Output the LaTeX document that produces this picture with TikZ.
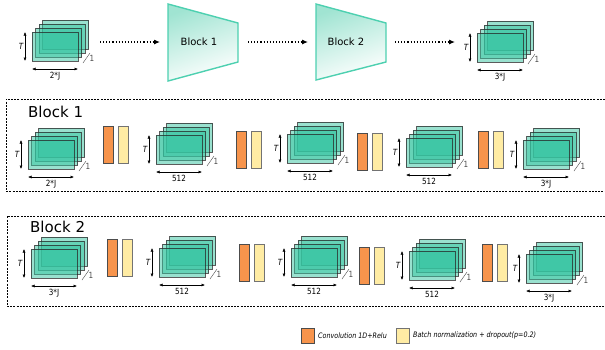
\documentclass[tikz,border=0pt]{standalone}
\usepackage{fontspec}
\setmainfont{DejaVu Sans}
\newfontfamily\narrowfont[FakeStretch=0.85]{DejaVu Sans}
\usetikzlibrary{arrows.meta,positioning}

\definecolor{layerteal}{RGB}{52,196,160}
\definecolor{blockedge}{RGB}{77,208,176}
\definecolor{blockfill}{RGB}{160,228,210}
\definecolor{convorange}{RGB}{247,148,76}
\definecolor{bnyellow}{RGB}{255,236,164}

\tikzset{
	fmaplayer/.style={draw=black!85, draw opacity=0.75, fill=layerteal, fill opacity=0.5,
		minimum width=46pt, minimum height=29pt, inner sep=0pt, outer sep=0pt, anchor=north west},
	dimarrow/.style={{Latex[length=3.5pt,width=3pt]}-{Latex[length=3.5pt,width=3pt]}, line width=0.5pt},
	dimlabel/.style={font=\narrowfont\fontsize{8.5}{9}\selectfont, inner sep=1pt},
	conv/.style={draw=black!70, fill=convorange, minimum width=10pt, minimum height=37pt,
		inner sep=0pt, outer sep=0pt},
	bnorm/.style={conv, draw=black!55, fill=bnyellow},
	flow/.style={dotted, line width=1.1pt, -{Latex[length=6pt,width=5pt]}},
	blockshape/.style={draw=blockedge, line width=1.4pt, top color=blockfill, bottom color=white, shading angle=20},
	groupbox/.style={line width=0.6pt, dash pattern=on 2pt off 1.2pt},
	grouptitle/.style={font=\fontsize{15}{18}\selectfont, anchor=west, inner sep=0pt},
	legendtext/.style={font=\narrowfont\itshape\fontsize{7.5}{9}\selectfont, inner sep=0pt},
}

% feature map stack: name, x, y (front layer, top left), width label
\newcommand{\featmap}[4]{%
	\foreach \k in {3,2,1,0}
		\node[fmaplayer] (#1-\k) at (#2+3.5*\k,#3-4*\k) {};
	\draw[dimarrow] ([xshift=-7pt]#1-0.north west) -- ([xshift=-7pt]#1-0.south west)
		node[midway, left, dimlabel] {\textit{T}};
	\draw[dimarrow] ([yshift=-8pt]#1-0.south west) -- ([yshift=-8pt]#1-0.south east)
		node[midway, below=1.5pt, dimlabel] {#4};
	\draw[line width=0.4pt, black!70] ([shift={(5pt,-2pt)}]#1-0.south east) -- ([shift={(12pt,8pt)}]#1-0.south east)
		node[pos=0.5, right=2pt, dimlabel] {1};
}
% conv + batch norm pair: name, x, y (top left)
\newcommand{\convbn}[3]{%
	\node[conv, anchor=north west] (#1-c) at (#2,#3) {};
	\node[bnorm, right=5pt of #1-c] (#1-b) {};
}

\begin{document}
\begin{tikzpicture}[x=1pt, y=-1pt]
	\useasboundingbox (0,0) rectangle (605,349);
%	% Top row: input, blocks, output
	\featmap{in}{32}{32}{2*J}
	\coordinate (b1-w) at (168,42);
	\coordinate (b1-e) at (238,42);
	\draw[blockshape] (168,4) -- (238,23) -- (238,62) -- (168,81) -- cycle;
	\node (b1-name) at (199,42) {Block 1};
	\coordinate (b2-w) at (316,42);
	\coordinate (b2-e) at (386,42);
	\draw[blockshape] (316,4) -- (386,23) -- (386,62) -- (316,80) -- cycle;
	\node (b2-name) at (346,42) {Block 2};
	\featmap{out}{477}{33}{3*J}
	\draw[flow] ([xshift=-68pt]b1-w) -- ([xshift=-8pt]b1-w);
	\draw[flow] ([xshift=10pt]b1-e) -- ([xshift=-8pt]b2-w);
	\draw[flow] ([xshift=9pt]b2-e) -- ([xshift=69pt]b2-e);
%	% Block 1
	\draw[groupbox] (605,99) -- (6,99) -- (6,191) -- (605,191);
	\node[grouptitle] (g1-title) at (28,112) {Block 1};
	\featmap{ba}{28}{140}{2*J}
	\convbn{pa}{103}{126}
	\featmap{bb}{156}{135}{512}
	\convbn{pb}{236}{131}
	\featmap{bc}{287}{134}{512}
	\convbn{pc}{357}{133}
	\featmap{bd}{406}{138}{512}
	\convbn{pd}{478}{131}
	\featmap{be}{523}{140}{3*J}
%	% Block 2
	\draw[groupbox] (605,216) -- (7,216) -- (7,306) -- (605,306);
	\node[grouptitle] (g2-title) at (30,227) {Block 2};
	\featmap{ca}{31}{249}{3*J}
	\convbn{qa}{107}{239}
	\featmap{cb}{159}{248}{512}
	\convbn{qb}{239}{244}
	\featmap{cc}{291}{248}{512}
	\convbn{qc}{359}{247}
	\featmap{cd}{409}{251}{512}
	\convbn{qd}{482}{244}
	\featmap{ce}{526}{254}{3*J}
%	% Legend
	\node[conv, minimum width=13pt, minimum height=15pt, anchor=north west] (leg-c) at (301,328) {};
	\node[legendtext, right=4pt of leg-c] (leg-ctext) {Convolution 1D+Relu};
	\node[bnorm, minimum width=13pt, minimum height=15pt, anchor=north west] (leg-b) at (396,328) {};
	\node[legendtext, right=4pt of leg-b] (leg-btext) {Batch normalization + dropout(p=0.2)};
\end{tikzpicture}
\end{document}
